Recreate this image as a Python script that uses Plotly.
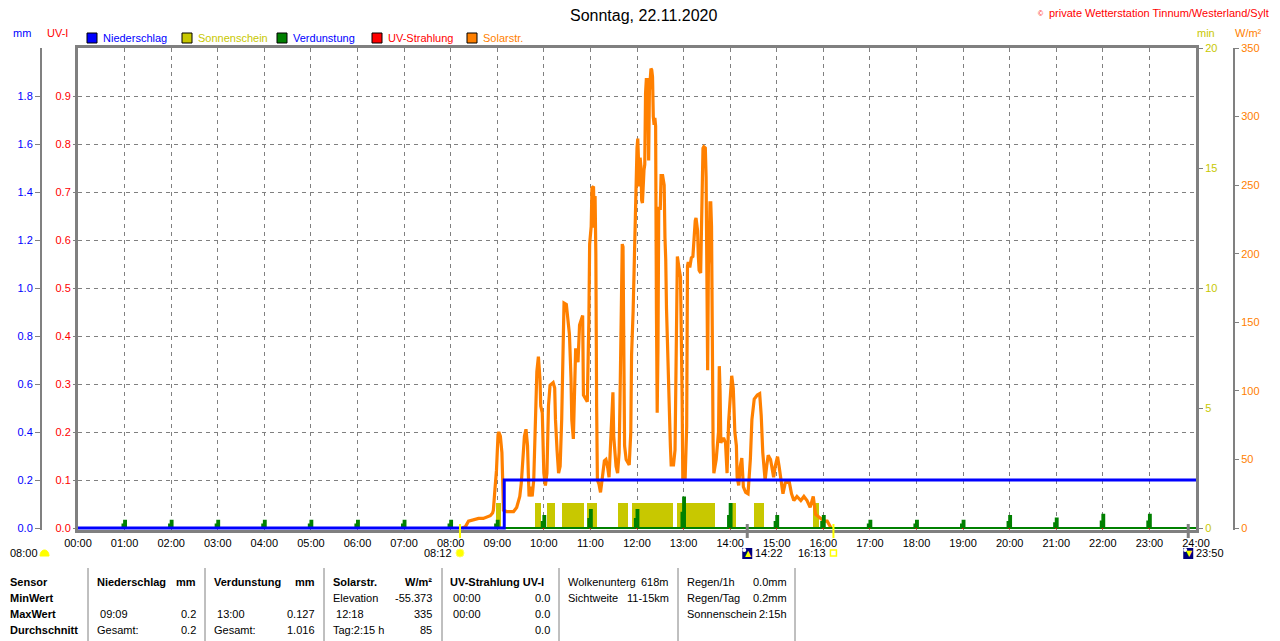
import plotly.graph_objects as go

# ---- data ----
solar_time = [
    "08:15", "08:19", "08:23", "08:30", "08:36", "08:42", "08:47", "08:51", "08:54", "08:55",
    "08:57", "08:59", "09:01", "09:02", "09:04", "09:06", "09:07", "09:08", "09:12", "09:17",
    "09:21", "09:25", "09:29", "09:31", "09:33", "09:35", "09:37", "09:39", "09:40", "09:41",
    "09:43", "09:45", "09:47", "09:49", "09:51", "09:53", "09:55", "09:56", "09:58", "10:00",
    "10:02", "10:04", "10:06", "10:08", "10:12", "10:14", "10:15", "10:17", "10:19", "10:21",
    "10:23", "10:25", "10:26", "10:29", "10:31", "10:33", "10:35", "10:36", "10:38", "10:39",
    "10:41", "10:42", "10:44", "10:46", "10:50", "10:51", "10:56", "10:58", "10:59", "11:01",
    "11:02", "11:04", "11:05", "11:06", "11:07", "11:08", "11:09", "11:11", "11:13", "11:15",
    "11:18", "11:20", "11:22", "11:24", "11:26", "11:27", "11:28", "11:29", "11:30", "11:32",
    "11:33", "11:35", "11:37", "11:38", "11:39", "11:40", "11:41", "11:42", "11:43", "11:44",
    "11:46", "11:50", "11:52", "11:53", "11:55", "11:56", "11:57", "11:58", "12:00", "12:01",
    "12:02", "12:03", "12:04", "12:05", "12:06", "12:07", "12:09", "12:10", "12:11", "12:12",
    "12:14", "12:15", "12:16", "12:17", "12:18", "12:19", "12:20", "12:21", "12:22", "12:23",
    "12:24", "12:25", "12:26", "12:27", "12:28", "12:30", "12:31", "12:33", "12:35", "12:36",
    "12:37", "12:38", "12:40", "12:41", "12:43", "12:44", "12:47", "12:49", "12:51", "12:52",
    "12:54", "12:56", "12:58", "12:59", "13:02", "13:04", "13:05", "13:06", "13:08", "13:10",
    "13:12", "13:13", "13:15", "13:16", "13:18", "13:19", "13:20", "13:22", "13:23", "13:25",
    "13:26", "13:28", "13:29", "13:30", "13:31", "13:32", "13:33", "13:34", "13:35", "13:36",
    "13:37", "13:38", "13:39", "13:42", "13:45", "13:46", "13:47", "13:48", "13:50", "13:52",
    "13:54", "13:56", "13:58", "14:01", "14:02", "14:04", "14:06", "14:08", "14:09", "14:11",
    "14:13", "14:15", "14:17", "14:20", "14:23", "14:26", "14:28", "14:31", "14:35", "14:38",
    "14:40", "14:42", "14:43", "14:45", "14:47", "14:49", "14:52", "14:54", "14:56", "14:58",
    "15:01", "15:03", "15:05", "15:08", "15:11", "15:16", "15:19", "15:22", "15:26", "15:31",
    "15:35", "15:39", "15:43", "15:47", "15:50", "15:52", "15:56", "16:01", "16:05", "16:08",
    "16:10",
]
solar_wm2 = [
    0, 1, 5, 6, 7, 7, 8, 9, 11, 13,
    28, 42, 68, 70, 67, 55, 35, 13, 12, 12,
    12, 15, 23, 33, 55, 67, 72, 60, 40, 23,
    30, 23, 35, 67, 114, 125, 109, 89, 84, 40,
    31, 40, 89, 104, 106, 102, 79, 57, 40, 45,
    79, 136, 164, 163, 153, 141, 109, 79, 65, 89,
    131, 124, 121, 148, 155, 97, 92, 151, 207, 220,
    248, 249, 219, 242, 200, 89, 35, 32, 26, 35,
    49, 50, 45, 37, 65, 84, 98, 99, 67, 52,
    45, 40, 55, 89, 139, 190, 207, 205, 150, 60,
    50, 46, 70, 126, 158, 182, 210, 249, 277, 284,
    268, 249, 270, 264, 239, 237, 261, 265, 317, 327,
    327, 268, 319, 334, 335, 334, 329, 300, 294, 299,
    293, 160, 84, 130, 233, 233, 257, 257, 250, 212,
    196, 160, 110, 89, 60, 46, 46, 57, 130, 198,
    190, 183, 100, 36, 36, 74, 191, 194, 190, 197,
    198, 211, 224, 226, 217, 198, 188, 186, 225, 277,
    278, 277, 256, 190, 115, 192, 203, 237, 237, 220,
    110, 62, 40, 50, 70, 118, 100, 62, 65, 65,
    62, 40, 77, 100, 111, 102, 70, 60, 37, 31,
    45, 51, 30, 26, 25, 50, 79, 94, 97, 98,
    82, 55, 45, 35, 45, 53, 50, 42, 37, 45,
    52, 45, 35, 25, 33, 34, 25, 20, 23, 20,
    23, 20, 15, 23, 10, 9, 7, 5, 5, 2,
    0,
]

rain_time = ["00:00", "09:09", "24:00"]
rain_mm = [0.0, 0.2, 0.2]

uv_time = ["00:00", "24:00"]
uv_index = [0.0, 0.0]

evap_hour = [1, 2, 3, 4, 5, 6, 7, 8, 9, 10, 11, 12, 13, 14, 15, 16, 17, 18, 19, 20, 21, 22, 23]
evap_mm = [0.03, 0.03, 0.03, 0.03, 0.03, 0.03, 0.03, 0.03, 0.03, 0.05, 0.075, 0.075,
           0.127, 0.10, 0.05, 0.05, 0.03, 0.03, 0.03, 0.05, 0.04, 0.055, 0.055]

sun_start = ["08:59", "09:49", "10:04", "10:23", "10:56", "11:36", "11:54", "12:52", "13:58", "14:31", "15:47"]
sun_end = ["09:05", "09:56", "10:14", "10:52", "11:09", "11:49", "12:46", "13:41", "14:07", "14:44", "15:54"]
sun_min = [1.05, 1.05, 1.05, 1.05, 1.05, 1.05, 1.05, 1.05, 1.05, 1.05, 1.05]

hour_labels = ["%02d:00" % h for h in range(25)]
uv_ticks = [0.0, 0.1, 0.2, 0.3, 0.4, 0.5, 0.6, 0.7, 0.8, 0.9]
mm_ticks = [0.0, 0.2, 0.4, 0.6, 0.8, 1.0, 1.2, 1.4, 1.6, 1.8]
min_ticks = [0, 5, 10, 15, 20]
solar_ticks = [0, 50, 100, 150, 200, 250, 300, 350]

sunrise, sunset = "08:12", "16:13"
moonrise, moonset = "14:22", "23:50"
dawn = "08:00"

# bottom table
sensor_rows = ["Sensor", "MinWert", "MaxWert", "Durchschnitt"]
table_cols = [
    # (left x, right x, header left, header right, row texts left, row texts right)
    (95, 198, "Niederschlag", "mm", ["", " 09:09", "Gesamt:"], ["", "0.2", "0.2"]),
    (212, 317, "Verdunstung", "mm", ["", " 13:00", "Gesamt:"], ["", "0.127", "1.016"]),
    (331, 434, "Solarstr.", "W/m²", ["Elevation", " 12:18", "Tag:2:15 h"], ["-55.373", "335", "85"]),
    (448, 552, "UV-Strahlung UV-I", "", [" 00:00", " 00:00", ""], ["0.0", "0.0", "0.0"]),
]
extra_cols = [
    (566, 671, ["Wolkenunterg", "Sichtweite"], ["618m", "11-15km"]),
    (685, 789, ["Regen/1h", "Regen/Tag", "Sonnenschein"], ["0.0mm", "0.2mm", "2:15h"]),
]
separators = [88, 205, 324, 442, 559, 678, 795]

# ---- layout helpers (page pixels; the page adds an 8px body margin) ----
OFF = 8
W, H = 1280 - OFF, 641 - OFF
PLOT_L, PLOT_R, PLOT_T, PLOT_B = 78, 1196, 48, 530
ZERO_Y = 528
FONT = "Liberation Sans"
GRAY = "#808080"
BLUE, OLIVE, GREEN, RED, ORANGE, NAVY = "#0000ff", "#c8c800", "#008000", "#ff0000", "#ff8000", "#000080"


def hrs(t):
    h, m = t.split(":")
    return int(h) + int(m) / 60


def px(x):
    return (x - OFF) / W


def py(y):
    return (PLOT_B - y) / (PLOT_B - PLOT_T)


def yrange(top):
    # zero sits 2px above the bottom edge so the baseline lines are not clipped
    return [-top * (PLOT_B - ZERO_Y) / (ZERO_Y - PLOT_T), top]


fig = go.Figure()

# sunshine (min)
sun_x = [(hrs(a) + hrs(b)) / 2 for a, b in zip(sun_start, sun_end)]
sun_w = [hrs(b) - hrs(a) for a, b in zip(sun_start, sun_end)]
fig.add_trace(go.Bar(x=sun_x, y=sun_min, width=sun_w, marker=dict(color=OLIVE, line=dict(width=0)),
                     yaxis="y", name="Sonnenschein"))

# UV (index)
fig.add_trace(go.Scatter(x=[hrs(t) for t in uv_time], y=uv_index, mode="lines",
                         line=dict(color=RED, width=2), yaxis="y2", name="UV-Strahlung"))

# solar radiation
fig.add_trace(go.Scatter(x=[hrs(t) for t in solar_time], y=solar_wm2, mode="lines",
                         line=dict(color=ORANGE, width=3.2), yaxis="y3", name="Solarstr."))

# evaporation spikes
ex, ey = [0.0], [0.0]
for h, v in zip(evap_hour, evap_mm):
    ex += [h - 0.045, h - 0.045, h - 0.01, h - 0.01, h + 0.03, h + 0.03]
    ey += [0, v * 0.5, v * 0.5, v, v, 0]
ex.append(24.0)
ey.append(0.0)
fig.add_trace(go.Scatter(x=ex, y=ey, mode="lines", fill="tozeroy", fillcolor=GREEN,
                         line=dict(color=GREEN, width=2), yaxis="y4", name="Verdunstung"))

# rain
fig.add_trace(go.Scatter(x=[hrs(t) for t in rain_time], y=rain_mm, mode="lines", line_shape="hv",
                         line=dict(color=BLUE, width=3), yaxis="y4", name="Niederschlag"))

annotations = []
shapes = []


def txt(x, y, s, color="black", anchor="left", size=11, xref="paper", xshift=0):
    annotations.append(dict(x=x, y=y, xref=xref, yref="paper", text=s, showarrow=False,
                            xanchor=anchor, yanchor="middle", xshift=xshift,
                            font=dict(family=FONT, size=size, color=color)))


# title and copyright
txt(px(643), py(15), "Sonntag, 22.11.2020", anchor="center", size=16)
txt(px(1271), py(13), "private Wetterstation Tinnum/Westerland/Sylt", color=RED, anchor="right", size=11)
txt(px(1046), py(13), "©", color=RED, anchor="right", size=7)

# axis units
txt(px(22), py(33), "mm", color=BLUE, anchor="center")
txt(px(57), py(33), "UV-I", color=RED, anchor="center")
txt(px(1206), py(33), "min", color=OLIVE, anchor="center")
txt(px(1248), py(33), "W/m²", color=ORANGE, anchor="center")

# legend
legend_items = [("Niederschlag", BLUE, BLUE, 87), ("Sonnenschein", OLIVE, OLIVE, 182),
                ("Verdunstung", GREEN, BLUE, 277), ("UV-Strahlung", RED, RED, 372),
                ("Solarstr.", ORANGE, ORANGE, 467)]
for label, box, tcol, x0 in legend_items:
    shapes.append(dict(type="rect", xref="paper", yref="paper", x0=px(x0), x1=px(x0 + 10),
                       y0=py(43), y1=py(33), fillcolor=box, line=dict(color="black", width=1)))
    txt(px(x0 + 14), py(38), label, color=tcol)

# sun / moon marks under the time axis
for t, col, w in [(sunrise, "#ffff00", 2), (sunset, "#ffff00", 2), (moonrise, GRAY, 3), (moonset, GRAY, 3)]:
    shapes.append(dict(type="line", xref="x", yref="paper", x0=hrs(t), x1=hrs(t),
                       y0=py(524), y1=py(538), line=dict(color=col, width=w)))

icon_y = py(553)
# sunrise icon and time
shapes.append(dict(type="circle", xref="x", yref="paper", xsizemode="pixel", ysizemode="pixel",
                   xanchor=hrs(sunrise), yanchor=icon_y, x0=-4, x1=4, y0=-4, y1=4,
                   fillcolor="#ffff00", line=dict(color="#ffff60", width=1)))
txt(hrs(sunrise), icon_y, sunrise, anchor="right", xref="x", xshift=-6)
# sunset icon and time
shapes.append(dict(type="rect", xref="x", yref="paper", xsizemode="pixel", ysizemode="pixel",
                   xanchor=hrs(sunset), yanchor=icon_y, x0=-3, x1=3, y0=-3, y1=3,
                   fillcolor="white", line=dict(color="#ffff00", width=1.5)))
txt(hrs(sunset), icon_y, sunset, anchor="right", xref="x", xshift=-5)
# moon icons
for t, arrow in [(moonrise, "▲"), (moonset, "▼")]:
    shapes.append(dict(type="rect", xref="x", yref="paper", xsizemode="pixel", ysizemode="pixel",
                       xanchor=hrs(t), yanchor=icon_y, x0=-5, x1=5, y0=-6, y1=5,
                       fillcolor=NAVY, line=dict(width=0)))
    shapes.append(dict(type="circle", xref="x", yref="paper", xsizemode="pixel", ysizemode="pixel",
                       xanchor=hrs(t), yanchor=icon_y, x0=-5, x1=-1, y0=1, y1=5,
                       fillcolor="white", line=dict(width=0)))
    annotations.append(dict(x=hrs(t), y=icon_y, xref="x", yref="paper", text=arrow, showarrow=False,
                            xanchor="center", yanchor="middle", xshift=1,
                            font=dict(family="DejaVu Sans", size=8, color="#ffff00")))
    txt(hrs(t), icon_y, t, anchor="left", xref="x", xshift=6)
# dawn at far left
txt(px(8), py(553), dawn, anchor="left")
shapes.append(dict(type="path", xref="paper", yref="paper",
                   path="M %f,%f C %f,%f %f,%f %f,%f Z" % (px(40), py(556), px(40), py(548),
                                                            px(49), py(548), px(49), py(556)),
                   fillcolor="#ffff00", line=dict(color="#ffff00", width=1)))

# bottom table
row_y = [582, 598, 614, 630]
for s, y in zip(sensor_rows, row_y):
    txt(px(8), py(y), "<b>%s</b>" % s)
for xl, xr, hl, hr, rl, rr in table_cols:
    txt(px(xl), py(row_y[0]), "<b>%s</b>" % hl)
    if hr:
        txt(px(xr), py(row_y[0]), "<b>%s</b>" % hr, anchor="right")
    for s, y in zip(rl, row_y[1:]):
        if s:
            txt(px(xl), py(y), s)
    for s, y in zip(rr, row_y[1:]):
        if s:
            txt(px(xr), py(y), s, anchor="right")
for xl, xr, rl, rr in extra_cols:
    for s, y in zip(rl, row_y):
        txt(px(xl), py(y), s)
    for s, y in zip(rr, row_y):
        txt(px(xr), py(y), s, anchor="right")
for x in separators:
    shapes.append(dict(type="line", xref="paper", yref="paper", x0=px(x), x1=px(x),
                       y0=py(568), y1=py(641), line=dict(color=GRAY, width=1)))

tick_font = dict(family=FONT, size=11)
fig.update_layout(
    width=W, height=H, template="none", showlegend=False,
    paper_bgcolor="white", plot_bgcolor="white",
    margin=dict(l=0, r=0, t=PLOT_T - OFF, b=H - (PLOT_B - OFF), pad=0),
    font=dict(family=FONT, size=11, color="black"),
    bargap=0,
    xaxis=dict(domain=[px(PLOT_L), px(PLOT_R)], range=[0, 24], tickvals=list(range(25)), ticktext=hour_labels,
               showgrid=True, gridcolor=GRAY, griddash="4px,4px", gridwidth=1,
               showline=True, mirror=True, linecolor=GRAY, linewidth=3, ticks="",
               ticklabelstandoff=1, zeroline=False, tickfont=dict(tick_font, color="black"),
               automargin=False),
    yaxis=dict(range=yrange(20), side="right", tickvals=min_ticks, tickfont=dict(tick_font, color=OLIVE),
               showline=True, mirror=True, linecolor=GRAY, linewidth=3, ticks="outside", ticklen=4,
               tickcolor=GRAY, showgrid=False, zeroline=False, automargin=False),
    yaxis2=dict(overlaying="y", side="left", anchor="x", range=yrange(1.0), tickvals=uv_ticks, tickformat=".1f",
                tickfont=dict(tick_font, color=RED), showgrid=True, gridcolor=GRAY, griddash="4px,4px",
                gridwidth=1, showline=False, ticks="outside", ticklen=4, tickcolor=GRAY,
                zeroline=False, automargin=False),
    yaxis3=dict(overlaying="y", side="right", anchor="free", position=px(1234), range=yrange(350),
                tickvals=solar_ticks, tickfont=dict(tick_font, color=ORANGE), showline=True, linecolor=GRAY,
                linewidth=2, ticks="outside", ticklen=4, tickcolor=GRAY, showgrid=False, zeroline=False,
                automargin=False),
    yaxis4=dict(overlaying="y", side="left", anchor="free", position=px(41), range=yrange(2.0),
                tickvals=mm_ticks, tickformat=".1f", tickfont=dict(tick_font, color=BLUE), showline=True,
                linecolor=GRAY, linewidth=2, ticks="outside", ticklen=5, tickcolor=GRAY, showgrid=False,
                zeroline=False, automargin=False),
    annotations=annotations,
    shapes=shapes,
)

fig.write_html("out.html")
